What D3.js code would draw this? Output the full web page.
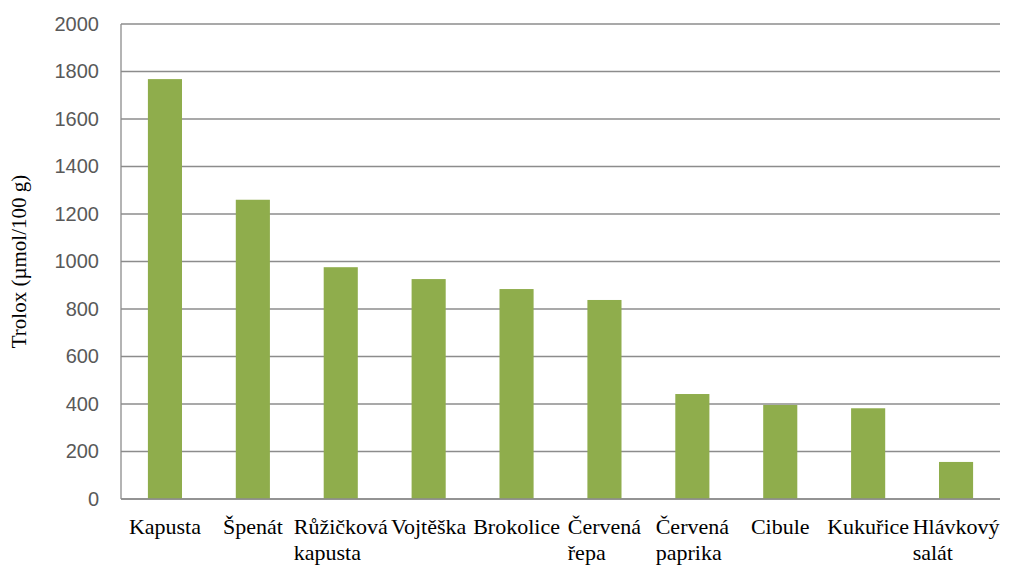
<!DOCTYPE html>
<html>
<head>
<meta charset="utf-8">
<script src="https://cdn.jsdelivr.net/npm/d3@7"></script>
<style>
  html, body { margin: 0; padding: 0; background: #ffffff; }
  svg { display: block; }
  .serif { font-family: "Liberation Serif", "DejaVu Serif", "Times New Roman", Times, serif; }
  .sans { font-family: "Liberation Sans", "DejaVu Sans", Arial, sans-serif; }
</style>
</head>
<body>
<svg id="chart" width="1017" height="568"></svg>
<script>
const categories = [
  ["Kapusta"],
  ["Špenát"],
  ["Růžičková", "kapusta"],
  ["Vojtěška"],
  ["Brokolice"],
  ["Červená", "řepa"],
  ["Červená", "paprika"],
  ["Cibule"],
  ["Kukuřice"],
  ["Hlávkový", "salát"]
];
const values = [1768, 1260, 976, 926, 884, 838, 442, 396, 382, 156];
const yTicks = [0, 200, 400, 600, 800, 1000, 1200, 1400, 1600, 1800, 2000];
const yTitle = "Trolox (µmol/100 g)";

const svg = d3.select("#chart");
const margin = { left: 121, right: 17, top: 24, bottom: 69 };
const W = 1017, H = 568;
const x0 = margin.left, x1 = W - margin.right;
const y0 = H - margin.bottom, y1 = margin.top;

const keys = categories.map((c, i) => i);
const x = d3.scaleBand().domain(keys).range([x0, x1]).paddingInner(0.612).paddingOuter(0.306);
const y = d3.scaleLinear().domain([0, 2000]).range([y0, y1]);

const gridColor = "#8c8c8c";

// gridlines
svg.append("g")
  .selectAll("line")
  .data(yTicks)
  .join("line")
  .attr("x1", x0).attr("x2", x1)
  .attr("y1", d => y(d)).attr("y2", d => y(d))
  .attr("stroke", gridColor)
  .attr("stroke-width", 1.3);

// y axis line
svg.append("line")
  .attr("x1", x0).attr("x2", x0)
  .attr("y1", y(2000)).attr("y2", y(0))
  .attr("stroke", gridColor).attr("stroke-width", 1.3);

// y tick labels via axis
const yAxis = d3.axisLeft(y).tickValues(yTicks).tickSize(0).tickPadding(22).tickFormat(d3.format("d"));
const gy = svg.append("g").attr("transform", `translate(${x0},0)`).call(yAxis);
gy.select(".domain").remove();
gy.attr("font-family", null).attr("font-size", null);
gy.selectAll("text")
  .attr("class", "sans")
  .style("font-size", "20px")
  .attr("fill", "#595959");

// bars
svg.append("g")
  .selectAll("rect")
  .data(values)
  .join("rect")
  .attr("x", (d, i) => x(i))
  .attr("width", x.bandwidth())
  .attr("y", d => y(d))
  .attr("height", d => y(0) - y(d))
  .attr("fill", "#8fad4c");

// bottom axis line
svg.append("line")
  .attr("x1", x0).attr("x2", x1)
  .attr("y1", y(0)).attr("y2", y(0))
  .attr("stroke", gridColor).attr("stroke-width", 1.3);

// category labels
const labG = svg.append("g")
  .attr("class", "serif")
  .style("font-size", "22px")
  .attr("fill", "#000");
categories.forEach((lines, i) => {
  const cx = x(i) + x.bandwidth() / 2;
  const t = labG.append("text").attr("y", 534);
  lines.forEach((ln, j) => {
    t.append("tspan").attr("x", cx).attr("dy", j === 0 ? 0 : 26).text(ln);
  });
  const first = t.select("tspan").node();
  const w = first.getComputedTextLength();
  t.selectAll("tspan").attr("x", cx - w / 2);
});

// y title
svg.append("text")
  .attr("class", "serif")
  .attr("transform", `translate(26,${(y0 + y1) / 2}) rotate(-90)`)
  .attr("text-anchor", "middle")
  .style("font-size", "21px")
  .attr("fill", "#000")
  .text(yTitle);
</script>
</body>
</html>
